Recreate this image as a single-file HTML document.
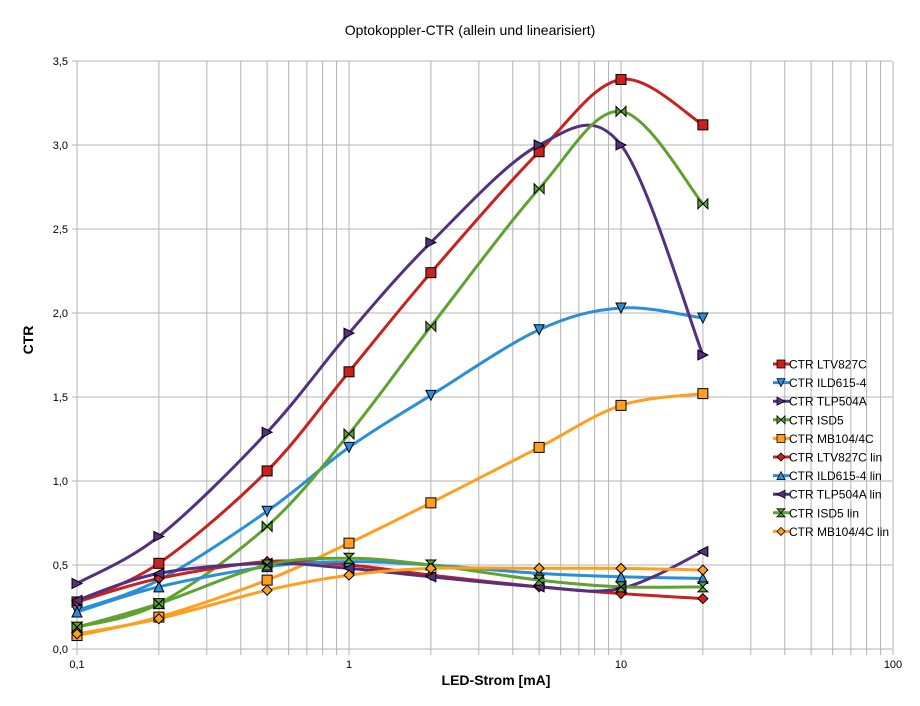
<!DOCTYPE html>
<html><head><meta charset="utf-8"><style>
body{margin:0;background:#fff;font-family:"Liberation Sans",sans-serif}
svg text{font-family:"Liberation Sans",sans-serif}
</style></head><body>
<svg id="s" width="920" height="701" xmlns="http://www.w3.org/2000/svg">
<rect width="920" height="701" fill="#fff"/>
<text x="470" y="35" font-size="14" text-anchor="middle">Optokoppler-CTR (allein und linearisiert)</text>
<text x="496" y="685" font-size="14" font-weight="bold" text-anchor="middle">LED-Strom [mA]</text>
<text transform="translate(33,340) rotate(-90)" font-size="14" font-weight="bold" text-anchor="middle">CTR</text>
<g id="grid"></g><g id="lines"></g><g id="leg"></g>
</svg>
<script>
const NS="http://www.w3.org/2000/svg";
const X0=77,DEC=272,Y0=649,SC=168;
const fx=v=>X0+Math.log10(v/0.1)*DEC, fy=v=>Y0-v*SC;
function el(p,t,a){const e=document.createElementNS(NS,t);for(const k in a)e.setAttribute(k,a[k]);p.appendChild(e);return e;}
const g=document.getElementById('grid');
for(let d=0;d<3;d++)for(let m=1;m<10;m++){const v=0.1*Math.pow(10,d)*m;const x=fx(v);el(g,'line',{x1:x,x2:x,y1:61,y2:655,stroke:'#b3b3b3','stroke-width':1});}
el(g,'line',{x1:fx(100),x2:fx(100),y1:61,y2:655,stroke:'#b3b3b3'});
for(let i=0;i<=7;i++){const y=fy(i*0.5);el(g,'line',{x1:72,x2:892,y1:y,y2:y,stroke:'#b3b3b3'});
 el(g,'text',{x:68,y:y+4,'font-size':11,'text-anchor':'end'}).textContent=(i*0.5).toFixed(1).replace('.',',');}
[[0.1,'0,1'],[1,'1'],[10,'10'],[100,'100']].forEach(([v,t])=>el(g,'text',{x:fx(v),y:668,'font-size':11,'text-anchor':'middle'}).textContent=t);
const xs=[0.1,0.2,0.5,1,2,5,10,20];
const S=[
['CTR LTV827C','#c9211e','sq',[0.28,0.51,1.06,1.65,2.24,2.96,3.39,3.12]],
['CTR ILD615-4','#2a8fd6','tdn',[0.23,0.41,0.82,1.20,1.51,1.90,2.03,1.97]],
['CTR TLP504A','#55307f','tr',[0.39,0.67,1.29,1.88,2.42,3.00,3.00,1.75]],
['CTR ISD5','#5ea22f','bow',[0.13,0.27,0.73,1.28,1.92,2.74,3.20,2.65]],
['CTR MB104/4C','#ff9e1f','sq',[0.08,0.19,0.41,0.63,0.87,1.20,1.45,1.52]],
['CTR LTV827C lin','#c9211e','dia',[0.28,0.42,0.52,0.50,0.44,0.37,0.33,0.30]],
['CTR ILD615-4 lin','#2a8fd6','tup',[0.22,0.37,0.49,0.52,0.50,0.45,0.43,0.42]],
['CTR TLP504A lin','#55307f','tl',[0.29,0.45,0.51,0.48,0.43,0.37,0.36,0.58]],
['CTR ISD5 lin','#5ea22f','hg',[0.13,0.27,0.50,0.54,0.50,0.41,0.37,0.37]],
['CTR MB104/4C lin','#ff9e1f','dia',[0.09,0.18,0.35,0.44,0.48,0.48,0.48,0.47]]];
function mk(p,type,x,y,c){const r=5,a={fill:c,stroke:'#000','stroke-width':1};let pts;
 switch(type){
 case 'sq':return el(p,'rect',Object.assign({x:x-r,y:y-r,width:2*r,height:2*r},a));
 case 'tdn':pts=[[x-r,y-r],[x+r,y-r],[x,y+r]];break;
 case 'tup':pts=[[x-r,y+r],[x+r,y+r],[x,y-r]];break;
 case 'tr':pts=[[x-r,y-r],[x+r,y],[x-r,y+r]];break;
 case 'tl':pts=[[x+r,y-r],[x-r,y],[x+r,y+r]];break;
 case 'dia':pts=[[x,y-r],[x+r,y],[x,y+r],[x-r,y]];break;
 case 'bow':pts=[[x-r,y-r],[x+r,y+r],[x+r,y-r],[x-r,y+r]];break;
 case 'hg':pts=[[x-r,y-r],[x+r,y-r],[x-r,y+r],[x+r,y+r]];break;}
 return el(p,'polygon',Object.assign({points:pts.map(q=>q.join(',')).join(' ')},a));}
const L=document.getElementById('lines');
S.forEach(s=>{const P=xs.map((v,i)=>[fx(v),fy(s[3][i])]);let d='M'+P[0];
 for(let i=0;i<P.length-1;i++){const p0=P[i-1]||P[i],p1=P[i],p2=P[i+1],p3=P[i+2]||P[i+1];
  const c1=[p1[0]+(p2[0]-p0[0])/6,p1[1]+(p2[1]-p0[1])/6],c2=[p2[0]-(p3[0]-p1[0])/6,p2[1]-(p3[1]-p1[1])/6];
  d+=' C'+c1+' '+c2+' '+p2;}
 el(L,'path',{d:d,fill:'none',stroke:s[1],'stroke-width':3});});
S.forEach(s=>xs.forEach((v,i)=>mk(L,s[2],fx(v),fy(s[3][i]),s[1])));
const G=document.getElementById('leg');
S.forEach((s,i)=>{const y=364+18.6*i;el(G,'line',{x1:773,x2:790,y1:y,y2:y,stroke:s[1],'stroke-width':3});
 mk(G,s[2],781,y,s[1]).setAttribute('transform',`translate(${781*0.2},${y*0.2}) scale(0.8)`);
 el(G,'text',{x:789,y:y+4.5,'font-size':12}).textContent=s[0];});
</script>
</body></html>
